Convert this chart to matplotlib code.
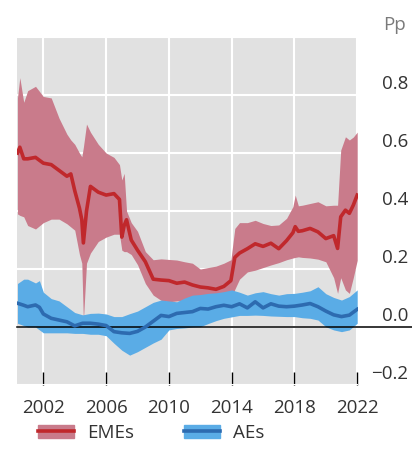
import numpy as np
import matplotlib.pyplot as plt
from matplotlib.patches import Patch
from matplotlib.lines import Line2D
import matplotlib.transforms as mtransforms

plt.rcParams['font.family'] = ['Open Sans', 'DejaVu Sans']

# EMEs: mean estimate with range (pp)
t_eme = [2000.35, 2000.5, 2000.75, 2001.0, 2001.5, 2002.0, 2002.5, 2003.0, 2003.5, 2003.75,
         2004.0, 2004.3, 2004.45, 2004.55, 2004.75, 2005.0, 2005.5, 2006.0, 2006.5, 2006.85,
         2007.0, 2007.15, 2007.3, 2007.6, 2008.0, 2008.5, 2009.0, 2009.5, 2010.0, 2010.5,
         2011.0, 2011.5, 2012.0, 2012.5, 2013.0, 2013.5, 2013.95, 2014.2, 2014.5, 2015.0,
         2015.5, 2016.0, 2016.5, 2017.0, 2017.5, 2017.9, 2018.05, 2018.25, 2018.5, 2019.0,
         2019.5, 2020.0, 2020.5, 2020.75, 2020.95, 2021.25, 2021.5, 2021.75, 2022.0]
eme_mean = [0.60, 0.62, 0.58, 0.58, 0.585, 0.565, 0.56, 0.54, 0.52, 0.528,
            0.47, 0.41, 0.37, 0.29, 0.40, 0.485, 0.465, 0.455, 0.46, 0.44,
            0.31, 0.35, 0.37, 0.30, 0.265, 0.225, 0.165, 0.162, 0.16, 0.151,
            0.155, 0.145, 0.138, 0.135, 0.13, 0.14, 0.16, 0.24, 0.255, 0.27,
            0.287, 0.278, 0.289, 0.27, 0.298, 0.325, 0.346, 0.33, 0.332, 0.34,
            0.328, 0.305, 0.315, 0.271, 0.38, 0.403, 0.392, 0.42, 0.455]
eme_hi = [0.79, 0.86, 0.775, 0.815, 0.83, 0.795, 0.79, 0.72, 0.665, 0.645,
          0.63, 0.60, 0.587, 0.62, 0.70, 0.672, 0.63, 0.60, 0.585, 0.56,
          0.507, 0.53, 0.40, 0.36, 0.33, 0.26, 0.232, 0.235, 0.233, 0.231,
          0.225, 0.22, 0.20, 0.205, 0.21, 0.22, 0.232, 0.34, 0.36, 0.36,
          0.368, 0.357, 0.35, 0.352, 0.375, 0.415, 0.455, 0.418, 0.42, 0.426,
          0.432, 0.418, 0.42, 0.42, 0.61, 0.656, 0.645, 0.655, 0.672]
eme_lo = [0.39, 0.385, 0.38, 0.35, 0.338, 0.36, 0.372, 0.372, 0.356, 0.345,
          0.334, 0.25, 0.22, 0.02, 0.22, 0.255, 0.295, 0.31, 0.32, 0.32,
          0.265, 0.26, 0.26, 0.25, 0.215, 0.15, 0.11, 0.092, 0.087, 0.09,
          0.093, 0.085, 0.078, 0.075, 0.072, 0.075, 0.093, 0.13, 0.165, 0.19,
          0.196, 0.205, 0.214, 0.222, 0.232, 0.238, 0.24, 0.242, 0.24, 0.238,
          0.234, 0.225, 0.17, 0.116, 0.17, 0.128, 0.116, 0.17, 0.23]

# AEs: mean estimate with range (pp)
t_ae = [2000.35, 2000.75, 2001.0, 2001.5, 2001.75, 2002.0, 2002.5, 2003.0, 2003.5, 2004.0,
        2004.5, 2005.0, 2005.5, 2006.0, 2006.5, 2007.0, 2007.5, 2008.0, 2008.5, 2009.0,
        2009.5, 2010.0, 2010.5, 2011.0, 2011.5, 2012.0, 2012.5, 2013.0, 2013.5, 2014.0,
        2014.5, 2015.0, 2015.5, 2016.0, 2016.5, 2017.0, 2017.5, 2018.0, 2018.5, 2019.0,
        2019.5, 2020.0, 2020.5, 2021.0, 2021.5, 2022.0]
ae_mean = [0.082, 0.075, 0.07, 0.076, 0.068, 0.045, 0.03, 0.024, 0.018, 0.004,
           0.013, 0.013, 0.01, 0.005, -0.016, -0.02, -0.022, -0.015, 0.0, 0.02,
           0.04, 0.036, 0.047, 0.05, 0.053, 0.064, 0.062, 0.07, 0.075, 0.07,
           0.08, 0.066, 0.087, 0.066, 0.08, 0.072, 0.07, 0.072, 0.076, 0.081,
           0.07, 0.055, 0.042, 0.036, 0.041, 0.061]
ae_hi = [0.15, 0.165, 0.165, 0.152, 0.16, 0.12, 0.098, 0.09, 0.07, 0.05,
         0.042, 0.047, 0.048, 0.045, 0.036, 0.036, 0.046, 0.055, 0.07, 0.085,
         0.093, 0.09, 0.087, 0.10, 0.11, 0.112, 0.116, 0.118, 0.122, 0.128,
         0.12, 0.11, 0.118, 0.122, 0.115, 0.11, 0.115, 0.116, 0.12, 0.125,
         0.139, 0.115, 0.102, 0.093, 0.105, 0.128]
ae_lo = [0.013, 0.005, 0.0, 0.0, -0.01, -0.02, -0.02, -0.02, -0.02, -0.022,
         -0.022, -0.025, -0.025, -0.03, -0.056, -0.08, -0.097, -0.085, -0.07, -0.055,
         -0.042, -0.01, -0.005, -0.003, 0.0, 0.001, 0.012, 0.022, 0.03, 0.035,
         0.04, 0.04, 0.041, 0.04, 0.038, 0.037, 0.036, 0.036, 0.032, 0.03,
         0.024, 0.001, -0.01, -0.016, -0.01, 0.013]

years = [2002, 2006, 2010, 2014, 2018, 2022]
yticks = [-0.2, 0.0, 0.2, 0.4, 0.6, 0.8]

red_band, red_line = '#c97b8b', '#c0282c'
blue_band, blue_line = '#5aace6', '#2d6bb0'
txt = '#333333'
fs = 13.5

fig = plt.figure(figsize=(4.12, 4.51), dpi=100)
ax = fig.add_axes([0.0405, 0.1463, 0.8284, 0.7716])
ax.set_facecolor('#e1e1e1')
ax.set_xlim(2000.3, 2022.05)
ax.set_ylim(-0.2, 1.0)

ax.set_xticks(years)
ax.set_yticks([-0.2, 0.0, 0.2, 0.4, 0.6, 0.8, 1.0])
ax.set_yticklabels([])
ax.grid(True, color='white', lw=1.5)
ax.set_axisbelow(True)
for s in ax.spines.values():
    s.set_visible(False)
ax.tick_params(axis='x', direction='in', length=9.5, width=1, color='black',
               labelsize=fs, labelcolor=txt, pad=10)
ax.tick_params(axis='y', length=0)

ax.fill_between(t_eme, eme_lo, eme_hi, color=red_band, lw=0, zorder=2)
ax.fill_between(t_ae, ae_lo, ae_hi, color=blue_band, lw=0, zorder=3)
ax.axhline(0, xmin=0, xmax=(412 - 16.7) / (358 - 16.7), color='black', lw=1.1,
           clip_on=False, zorder=4)
ax.plot(t_eme, eme_mean, color=red_line, lw=2.6, zorder=5)
ax.plot(t_ae, ae_mean, color=blue_line, lw=2.6, zorder=5)

# y labels sit on the right, just above their gridlines
trans = mtransforms.blended_transform_factory(fig.transFigure, ax.transData)
for v in yticks:
    lab = f'{v:.1f}'.replace('-', '\u2212')
    ax.text(408 / 412, v + 0.02, lab, transform=trans, ha='right', va='baseline',
            fontsize=fs, color=txt, clip_on=False)
fig.text(406 / 412, 1 - 25 / 451, 'Pp', ha='right', va='center', fontsize=fs,
         color='#7a7a7a')

handles = [(Patch(color=red_band), Line2D([], [], color=red_line, lw=2.6)),
           (Patch(color=blue_band), Line2D([], [], color=blue_line, lw=2.6))]
fig.legend(handles, ['EMEs', 'AEs'], loc='center left',
           bbox_to_anchor=(38 / 412, 1 - 433 / 451), ncol=2, frameon=False,
           borderpad=0, borderaxespad=0, handlelength=1.9, handleheight=0.7,
           handletextpad=0.7, columnspacing=2.7, fontsize=fs,
           labelcolor=txt)

fig.savefig('out.png', dpi=100)
